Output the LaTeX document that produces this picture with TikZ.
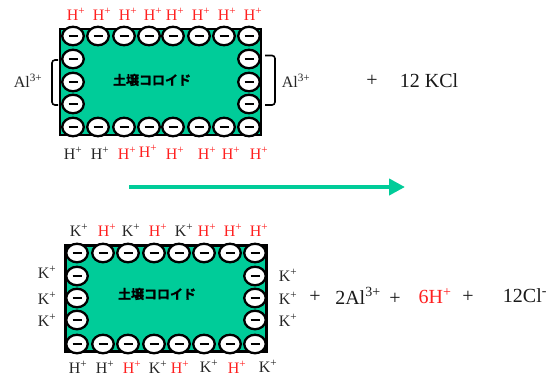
\documentclass[tikz,border=0pt]{standalone}
\usepackage{fontspec}
\setmainfont{Liberation Serif}
\newfontfamily\cjkfont{Noto Sans CJK JP Bold}[FakeBold=1.2]
\usetikzlibrary{shapes.geometric,arrows.meta}
\definecolor{soil}{HTML}{00CC99}
\definecolor{hred}{HTML}{FF2020}
\newcommand{\ionH}{H\textsuperscript{+}}
\newcommand{\ionK}{K\textsuperscript{+}}
\tikzset{
  colloid/.style={draw=black,line width=2.6pt,fill=soil,minimum width=201pt,minimum height=106pt,inner sep=0pt},
  charge/.style={ellipse,draw=black,line width=2.3pt,fill=white,minimum width=21.5pt,minimum height=18.5pt,inner sep=0pt,
    path picture={\draw[line width=2.4pt] ([xshift=-4.5pt]path picture bounding box.center) -- ([xshift=4.5pt]path picture bounding box.center);}},
  ion/.style={font=\fontsize{16}{16}\selectfont,inner sep=0pt,text=black!85},
  redion/.style={ion,text=hred},
  eqn/.style={font=\fontsize{20}{20}\selectfont,inner sep=0pt,text=black!90},
  soiltext/.style={font=\cjkfont\fontsize{13}{13}\selectfont,inner sep=0pt,text=black},
  bracket/.style={draw=black,line width=1.6pt,rounded corners=3pt},
  flow/.style={draw=soil,line width=4pt,-{Triangle[length=16pt,width=16pt]}}
}
\begin{document}
\begin{tikzpicture}[x=1pt,y=-1pt]
\useasboundingbox (0,0) rectangle (555,376);
\fill[white] (0,0) rectangle (555,376);
% upper colloid
\node[colloid] (A) at (160.5,82) {};
\foreach \x [count=\i] in {73,98,124,149,173,199,224,249}{
  \node[charge] (at\i) at (\x,36) {};
  \node[charge] (ab\i) at (\x,127) {};
}
\foreach \y [count=\i] in {59,82,104}{
  \node[charge] (al\i) at (73,\y) {};
  \node[charge] (ar\i) at (249,\y) {};
}
\node[soiltext] (Atext) at (152,80) {土壌コロイド};
\foreach \x [count=\i] in {76,102,128,153,175,201,227,253}{
  \node[redion] (ha\i) at (\x,14) {\ionH};
}
\node[ion] (hb1) at (73,153) {\ionH};
\node[ion] (hb2) at (100,153) {\ionH};
\node[redion] (hb3) at (127,153) {\ionH};
\node[redion] (hb4) at (148,151) {\ionH};
\node[redion] (hb5) at (175,153) {\ionH};
\node[redion] (hb6) at (207,153) {\ionH};
\node[redion] (hb7) at (231,153) {\ionH};
\node[redion] (hb8) at (259,153) {\ionH};
\node[ion] (alL) at (28,81) {Al\textsuperscript{3+}};
\node[ion] (alR) at (296,81) {Al\textsuperscript{3+}};
\draw[bracket] (58,60) -- (52,60) -- (52,105) -- (58,105);
\draw[bracket] (265,55.5) -- (275,55.5) -- (275,105) -- (265,105);
\node[eqn] (p1) at (372,81) {+};
\node[eqn] (kcl) at (429,81) {12 KCl};
% arrow
\coordinate (s) at (129,187);
\coordinate (e) at (405,187);
\draw[flow] (s) -- (e);
% lower colloid
\node[colloid] (B) at (166,298.5) {};
\foreach \x [count=\i] in {77,103,128,154,179,204,230,255}{
  \node[charge] (bt\i) at (\x,253) {};
  \node[charge] (bb\i) at (\x,344) {};
}
\foreach \y [count=\i] in {276,298,320}{
  \node[charge] (bl\i) at (77,\y) {};
  \node[charge] (br\i) at (255,\y) {};
}
\node[soiltext] (Btext) at (157,294) {土壌コロイド};
\node[ion] (c1) at (79,230) {\ionK};
\node[redion] (c2) at (107,230) {\ionH};
\node[ion] (c3) at (131,230) {\ionK};
\node[redion] (c4) at (158,230) {\ionH};
\node[ion] (c5) at (184,230) {\ionK};
\node[redion] (c6) at (207,230) {\ionH};
\node[redion] (c7) at (233,230) {\ionH};
\node[redion] (c8) at (259,230) {\ionH};
\node[ion] (d1) at (78,367) {\ionH};
\node[ion] (d2) at (105,367) {\ionH};
\node[redion] (d3) at (132,367) {\ionH};
\node[ion] (d4) at (158,367) {\ionK};
\node[redion] (d5) at (180,367) {\ionH};
\node[ion] (d6) at (209,366) {\ionK};
\node[redion] (d7) at (237,367) {\ionH};
\node[ion] (d8) at (268,366) {\ionK};
\foreach \y [count=\i] in {272,298,320}{
  \node[ion] (kl\i) at (47,\y) {\ionK};
}
\foreach \y [count=\i] in {275,298,320}{
  \node[ion] (kr\i) at (288,\y) {\ionK};
}
\node[eqn] (p2) at (315,297) {+};
\node[eqn] (alion) at (358,296) {2Al\textsuperscript{3+}};
\node[eqn] (p3) at (395,299) {+};
\node[eqn,text=hred] (hion) at (435,296) {6H\textsuperscript{+}};
\node[eqn] (p4) at (468,297) {+};
\node[eqn] (clion) at (525,296) {12Cl\textsuperscript{-}};
\end{tikzpicture}
\end{document}
